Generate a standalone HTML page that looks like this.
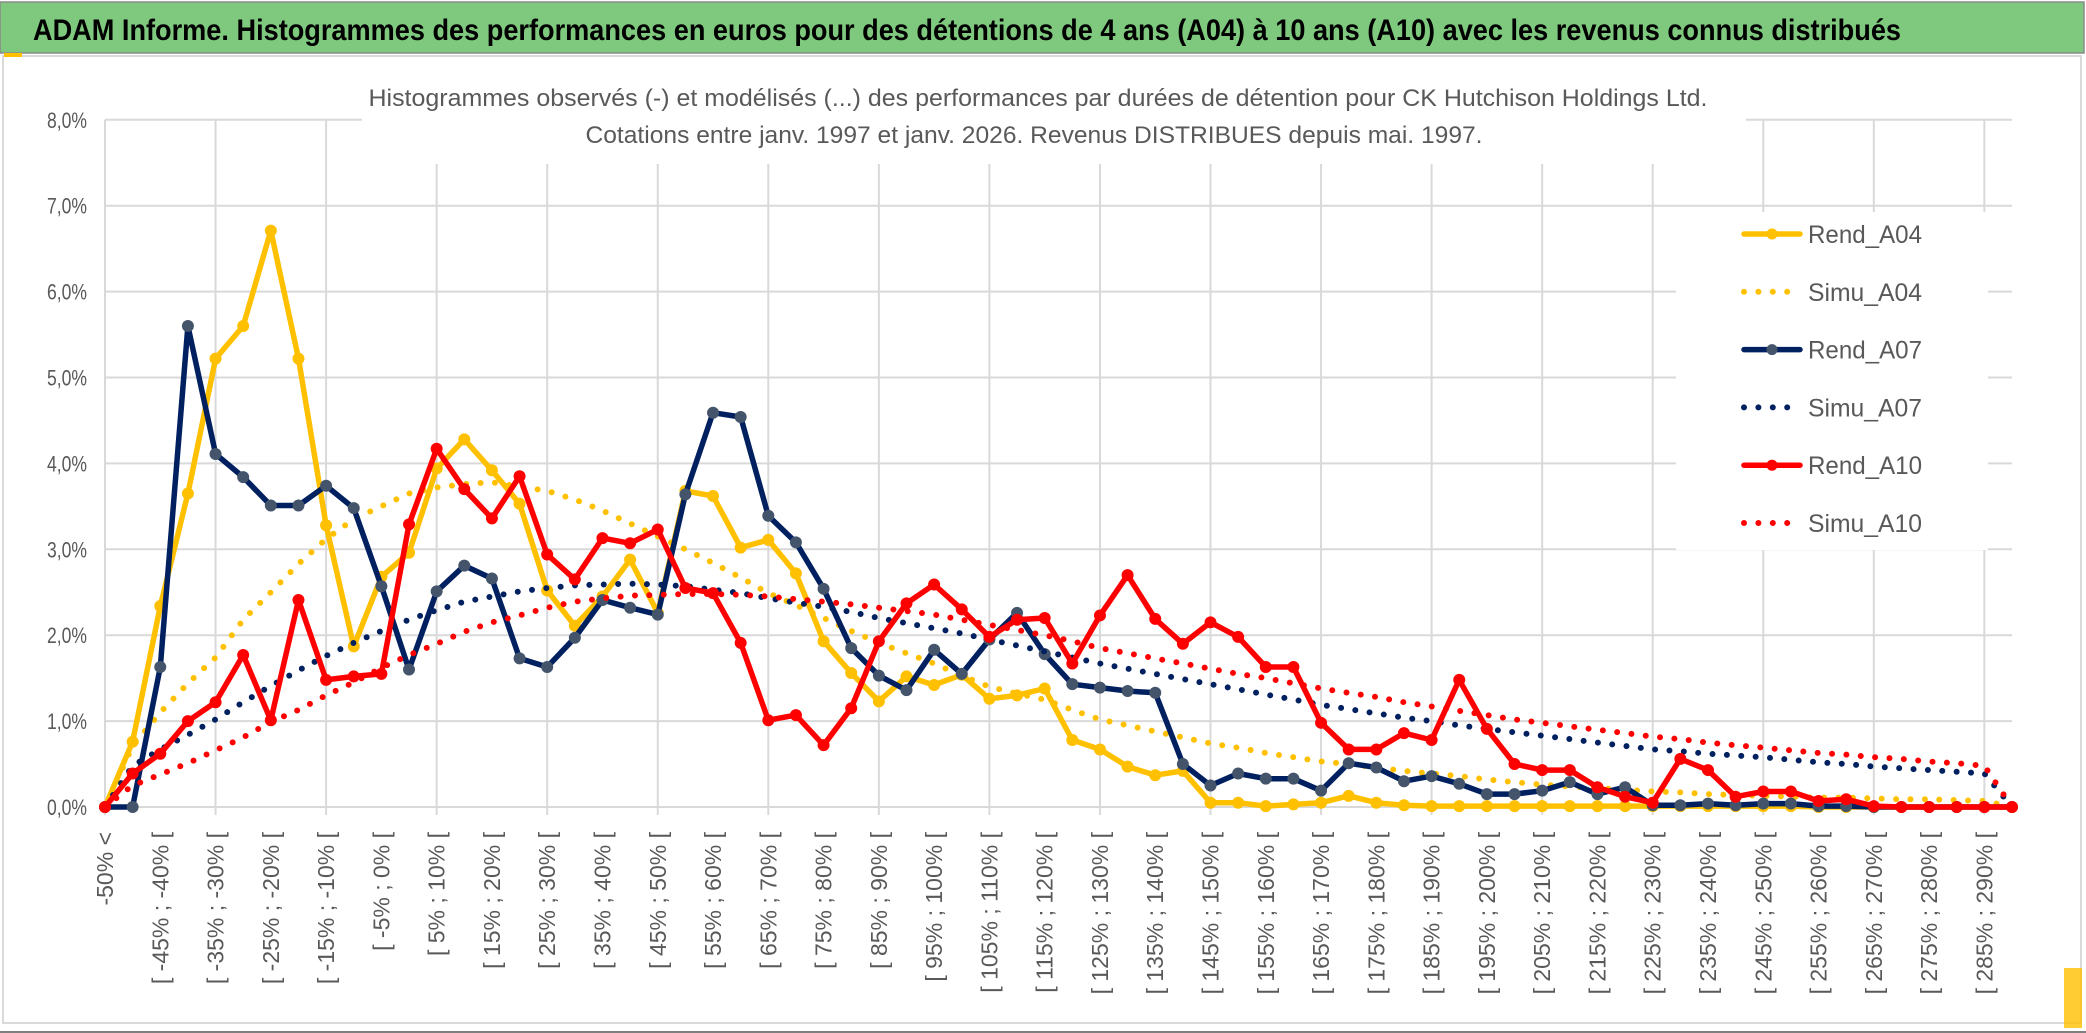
<!DOCTYPE html>
<html><head><meta charset="utf-8">
<style>
html,body{margin:0;padding:0;background:#fff;}
svg{display:block;font-family:"Liberation Sans",sans-serif;}
</style></head>
<body>
<svg id="chart" width="2086" height="1033" viewBox="0 0 2086 1033" xmlns="http://www.w3.org/2000/svg">
  <rect x="0" y="0" width="2086" height="1033" fill="#ffffff"/>
  <rect x="0" y="2" width="2084" height="51" fill="#7fc97f" stroke="#8a8a8a" stroke-width="1.5"/>
  <text x="33" y="40" font-size="30" font-weight="bold" fill="#000" textLength="1868" lengthAdjust="spacingAndGlyphs">ADAM Informe. Histogrammes des performances en euros pour des détentions de 4 ans (A04) à 10 ans (A10) avec les revenus connus distribués</text>
  <rect x="3" y="56" width="2078" height="967" fill="#fff" stroke="#d9d9d9" stroke-width="2"/>
  <line x1="0" y1="1032" x2="2086" y2="1032" stroke="#7f7f7f" stroke-width="2"/>
  <rect x="2064" y="968" width="18" height="60" fill="#ffc000" opacity="0.8"/>
  <rect x="4" y="53" width="18" height="4" fill="#ffc000"/>
  <g id="grid"></g>
  <g id="axes"></g>
  <rect x="362" y="70" width="1384" height="94" fill="#fff"/>
  <text x="1038" y="106" font-size="24" fill="#595959" text-anchor="middle" textLength="1339" lengthAdjust="spacingAndGlyphs">Histogrammes observés (-) et modélisés (...) des performances par durées de détention pour CK Hutchison Holdings Ltd.</text>
  <text x="1034" y="143" font-size="24" fill="#595959" text-anchor="middle" textLength="897" lengthAdjust="spacingAndGlyphs">Cotations entre janv. 1997 et janv. 2026. Revenus DISTRIBUES depuis mai. 1997.</text>
  <rect x="1676" y="212" width="312" height="338" fill="#fff"/>
  <g id="series"></g>
  <g id="legend"></g>
</svg>
<script>
const categories = [];
categories.push("-50% <");
for (let k = 1; k < 70; k++) categories.push("[ " + (-55 + 5*k) + "% ; " + (-50 + 5*k) + "% [");

const yTicks = [0,1,2,3,4,5,6,7,8];
const yTickLabels = ["0,0%","1,0%","2,0%","3,0%","4,0%","5,0%","6,0%","7,0%","8,0%"];

const rendA04 = [0,0.76,2.34,3.65,5.22,5.6,6.71,5.22,3.28,1.87,2.68,2.96,3.94,4.28,3.92,3.53,2.52,2.11,2.45,2.88,
 2.26,3.68,3.62,3.02,3.11,2.72,1.93,1.56,1.23,1.52,1.42,1.54,1.26,1.30,1.38,0.78,0.67,0.47,0.37,0.42,
 0.05,0.05,0.01,0.03,0.05,0.13,0.05,0.02,0.01,0.01,0.01,0.01,0.01,0.01,0.01,0.01,0.01,0.01,0.01,0.01,
 0.01,0.01,0,0,0,0,0,0,0,0];
const simuA04 = [0,0.71,1.10,1.44,1.74,2.18,2.50,2.83,3.12,3.35,3.50,3.65,3.72,3.76,3.78,3.73,3.68,3.58,3.45,3.30,
 3.15,3.00,2.84,2.67,2.49,2.35,2.20,2.05,1.91,1.79,1.67,1.53,1.40,1.32,1.25,1.13,1.02,0.95,0.88,0.81,
 0.74,0.69,0.63,0.58,0.53,0.50,0.46,0.42,0.39,0.36,0.32,0.29,0.26,0.24,0.22,0.20,0.18,0.17,0.15,0.14,
 0.13,0.12,0.11,0.11,0.10,0.09,0.09,0.08,0.07,0];
const rendA07 = [0,0,1.63,5.6,4.11,3.84,3.51,3.51,3.74,3.48,2.57,1.60,2.51,2.81,2.66,1.73,1.63,1.97,2.41,2.32,
 2.24,3.64,4.59,4.54,3.39,3.08,2.54,1.85,1.53,1.36,1.83,1.55,1.95,2.26,1.78,1.43,1.39,1.35,1.33,0.50,
 0.25,0.39,0.33,0.33,0.19,0.51,0.46,0.30,0.36,0.27,0.15,0.15,0.19,0.29,0.15,0.23,0.02,0.02,0.04,0.02,
 0.04,0.04,0.01,0.01,0,0,0,0,0,0];
const simuA07 = [0,0.48,0.67,0.84,1.02,1.22,1.41,1.59,1.76,1.91,2.05,2.18,2.29,2.39,2.45,2.51,2.55,2.58,2.59,2.60,
 2.59,2.57,2.53,2.49,2.43,2.38,2.33,2.27,2.20,2.14,2.08,2.02,1.95,1.88,1.81,1.74,1.67,1.61,1.55,1.49,
 1.43,1.37,1.31,1.25,1.19,1.14,1.09,1.04,1.00,0.95,0.91,0.87,0.83,0.79,0.75,0.71,0.67,0.65,0.62,0.60,
 0.58,0.55,0.52,0.50,0.47,0.45,0.43,0.41,0.39,0];
const rendA10 = [0,0.39,0.62,1.00,1.22,1.77,1.01,2.41,1.48,1.52,1.55,3.29,4.17,3.70,3.36,3.85,2.94,2.65,3.13,3.07,
 3.23,2.55,2.49,1.91,1.01,1.07,0.72,1.15,1.93,2.37,2.59,2.30,1.98,2.18,2.20,1.67,2.23,2.70,2.19,1.90,
 2.15,1.98,1.63,1.63,0.98,0.67,0.67,0.86,0.78,1.48,0.91,0.50,0.43,0.43,0.23,0.12,0.05,0.56,0.43,0.12,
 0.18,0.18,0.07,0.09,0.01,0,0,0,0,0];
const simuA10 = [0,0.25,0.38,0.51,0.66,0.81,0.99,1.13,1.30,1.45,1.62,1.77,1.90,2.04,2.15,2.23,2.32,2.39,2.43,2.46,
 2.47,2.48,2.48,2.47,2.45,2.42,2.39,2.36,2.32,2.28,2.24,2.18,2.12,2.06,2.00,1.93,1.85,1.79,1.73,1.67,
 1.61,1.55,1.50,1.44,1.38,1.33,1.28,1.22,1.17,1.12,1.07,1.02,0.98,0.94,0.90,0.86,0.82,0.79,0.75,0.72,
 0.69,0.66,0.63,0.61,0.58,0.56,0.53,0.51,0.48,0];

const seriesNames = ["Rend_A04","Simu_A04","Rend_A07","Simu_A07","Rend_A10","Simu_A10"];

const NS = "http://www.w3.org/2000/svg";
const X0 = 105, X1 = 2012, Y0 = 807, PER = 85.9;
function xScale(i){ return X0 + i * (X1 - X0) / (categories.length - 1); }
function yScale(v){ return Y0 - v * PER; }
function mk(tag, attrs, parent){ const e = document.createElementNS(NS, tag); for (const k in attrs) e.setAttribute(k, attrs[k]); parent.appendChild(e); return e; }

const grid = document.getElementById("grid");
yTicks.forEach(function(t){
  const l = mk("line", {x1: X0, x2: X1, y1: yScale(t), y2: yScale(t), stroke: "#d9d9d9", "stroke-width": 2}, grid);
  
  
});
for (let i = 0; i < categories.length; i += 4) {
  const l = mk("line", {x1: xScale(i), x2: xScale(i), y1: yScale(8), y2: Y0 + 8, stroke: "#d9d9d9", "stroke-width": 2}, grid);
  
  
}
const axes = document.getElementById("axes");
yTicks.forEach(function(t, k){
  const tx = mk("text", {x: 87, y: yScale(t) + 8, "font-size": 22, fill: "#595959", "text-anchor": "end", textLength: 40, lengthAdjust: "spacingAndGlyphs"}, axes);
  tx.textContent = yTickLabels[k];
  
  
});
for (let i = 0; i < categories.length; i += 2) {
  const x = xScale(i) + 8;
  const tx = mk("text", {transform: "translate(" + x + ",832) rotate(-90)", "font-size": 23, fill: "#595959", "text-anchor": "end"}, axes);
  tx.textContent = categories[i];
  
  
}

const seriesG = document.getElementById("series");
function drawSeries(vals, color, dotted, markerFill, name){
  const g = mk("g", {}, seriesG);
  
  
  const pts = vals.map(function(v, i){ return xScale(i).toFixed(1) + "," + yScale(v).toFixed(1); }).join(" ");
  const attrs = {points: pts, fill: "none", stroke: color, "stroke-linejoin": "round", "stroke-linecap": "round"};
  if (dotted) { attrs["stroke-width"] = 6; attrs["stroke-dasharray"] = "0 14.4"; }
  else { attrs["stroke-width"] = 5.5; }
  const pl = mk("polyline", attrs, g);
  
  
  if (!dotted) {
    vals.forEach(function(v, i){
      const c = mk("circle", {cx: xScale(i), cy: yScale(v), r: 5.5, fill: markerFill, stroke: markerFill}, g);
      
      
    });
  }
}
drawSeries(rendA04, "#ffc000", false, "#ffc000", "rend-a04");
drawSeries(simuA04, "#ffc000", true, null, "simu-a04");
drawSeries(rendA07, "#002060", false, "#44546a", "rend-a07");
drawSeries(simuA07, "#002060", true, null, "simu-a07");
drawSeries(rendA10, "#ff0000", false, "#ff0000", "rend-a10");
drawSeries(simuA10, "#ff0000", true, null, "simu-a10");

const legend = document.getElementById("legend");
const legColors = ["#ffc000","#ffc000","#002060","#002060","#ff0000","#ff0000"];
const legMarker = ["#ffc000",null,"#44546a",null,"#ff0000",null];
seriesNames.forEach(function(nm, k){
  const y = 234 + k * 57.8;
  const g = mk("g", {}, legend);
  
  
  if (k % 2 === 0) {
    mk("line", {x1: 1744, x2: 1800, y1: y, y2: y, stroke: legColors[k], "stroke-width": 5.5, "stroke-linecap": "round"}, g);
    mk("circle", {cx: 1772, cy: y, r: 5.5, fill: legMarker[k]}, g);
  } else {
    mk("line", {x1: 1744, x2: 1800, y1: y, y2: y, stroke: legColors[k], "stroke-width": 6, "stroke-linecap": "round", "stroke-dasharray": "0 14.4"}, g);
  }
  const t = mk("text", {x: 1808, y: y + 9, "font-size": 25, fill: "#595959", textLength: 114, lengthAdjust: "spacingAndGlyphs"}, g);
  t.textContent = nm;
});
</script>
</body></html>
